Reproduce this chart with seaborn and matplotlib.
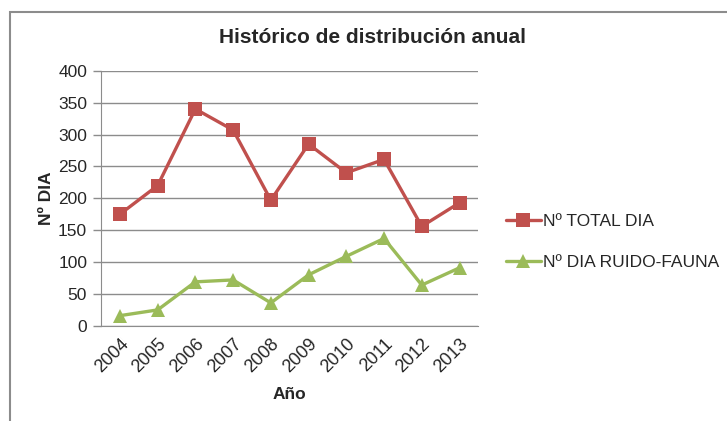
import matplotlib
matplotlib.use("Agg")
import matplotlib.pyplot as plt
import seaborn as sns
import pandas as pd
from matplotlib.patches import Rectangle


# ==========================
# DATA
# ==========================

years = ["2004", "2005", "2006", "2007", "2008", "2009", "2010", "2011", "2012", "2013"]
total_dia = [175, 220, 340, 307, 197, 285, 240, 261, 156, 193]
ruido_fauna = [16, 25, 69, 72, 36, 80, 109, 137, 64, 91]

series_names = ["Nº TOTAL DIA", "Nº DIA RUIDO-FAUNA"]
y_ticks = [0, 50, 100, 150, 200, 250, 300, 350, 400]

df = pd.DataFrame({
    "Año": years * 2,
    "Nº DIA": total_dia + ruido_fauna,
    "serie": [series_names[0]] * len(years) + [series_names[1]] * len(years),
})


# ==========================
# FIGURE
# ==========================

sns.set_style("white")
plt.rcParams["font.family"] = ["Liberation Sans", "DejaVu Sans"]

fig = plt.figure(figsize=(7.27, 4.21), dpi=100)
ax = fig.add_axes([0.139, 0.226, 0.519, 0.606])

# outer chart frame
fig.patches.append(Rectangle((9.5 / 727, -0.1), 1.0, 1 - 11.5 / 421 + 0.1,
                             transform=fig.transFigure, fill=False,
                             edgecolor="#8c8c8c", linewidth=1.5))

palette = {series_names[0]: "#C0504D", series_names[1]: "#9BBB59"}
markers = {series_names[0]: "s", series_names[1]: "^"}

sns.lineplot(
    data=df, x="Año", y="Nº DIA", hue="serie", style="serie",
    palette=palette, markers=markers, dashes=False,
    linewidth=2.4, markersize=10, markeredgewidth=0,
    sort=False, ax=ax
)

ax.set_ylim(0, 400)
ax.set_xlim(-0.5, len(years) - 0.5)
ax.set_yticks(y_ticks)
ax.yaxis.grid(True, color="#8c8c8c", linewidth=1)
ax.set_axisbelow(True)

for s in ["top", "right"]:
    ax.spines[s].set_visible(False)
ax.spines["left"].set_color("#8c8c8c")
ax.spines["bottom"].set_color("#8c8c8c")

ax.tick_params(axis="y", length=6, width=1, color="#8c8c8c", labelsize=12.5, pad=4, left=True)
ax.tick_params(axis="x", length=0, labelsize=13, pad=7)
plt.setp(ax.get_xticklabels(), rotation=45, ha="right", rotation_mode="anchor")

ax.set_xlabel("Año", fontsize=12.5, fontweight="bold", labelpad=8)
ax.set_ylabel("Nº DIA", fontsize=12.5, fontweight="bold", labelpad=3)

fig.text(0.513, 0.912, "Histórico de distribución anual", ha="center", va="center",
         fontsize=15, fontweight="bold")

ax.legend(title=None, frameon=False, fontsize=12.5, loc="center left",
          bbox_to_anchor=(1.055, 0.33), handlelength=2.0, handletextpad=0.15,
          labelspacing=1.5, borderaxespad=0)

fig.savefig("out.png", dpi=100)
plt.close()
